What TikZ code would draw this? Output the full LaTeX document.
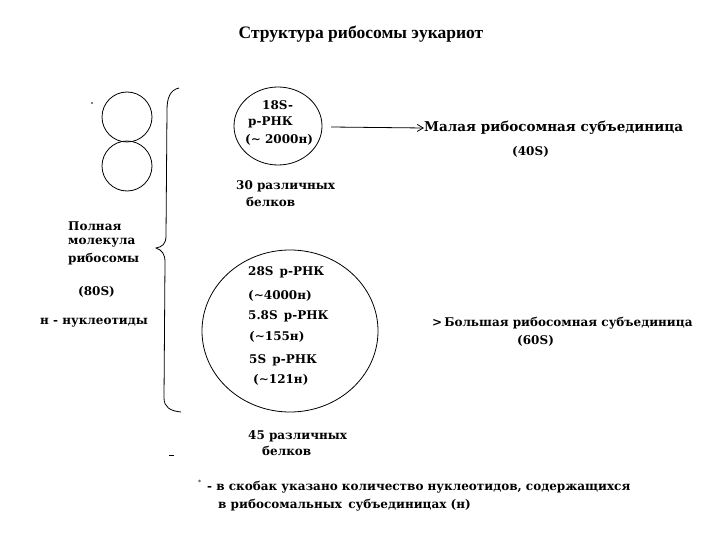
\documentclass[tikz,border=0pt]{standalone}
\usepackage{fontspec}
\setmainfont{DejaVu Serif}
\newfontfamily\titlefont{Liberation Serif}
\usetikzlibrary{arrows.meta}
\tikzset{
  lbl/.style={inner sep=0pt, anchor=west, font=\fontsize{12}{14}\selectfont\bfseries},
  ring/.style={draw, line width=0.8pt},
}
\begin{document}
\begin{tikzpicture}[x=1pt,y=-1pt]
\useasboundingbox (0,0) rectangle (720,540);
% title
\node[inner sep=0pt] (title) at (361,34) {\titlefont\fontsize{17.5}{20}\selectfont\bfseries Структура рибосомы эукариот};
% two small circles (ribosome sketch)
\draw[ring] (127,117) circle[radius=25];
\draw[ring] (127,166) circle[radius=25];
\fill (92,103) circle[radius=0.8];
% brace
\draw[line width=0.8pt] (179,88) .. controls (170,90) and (167,98) .. (167,110)
  -- (166,236) .. controls (166,244) and (162,247) .. (156,248)
  .. controls (162,250) and (165,254) .. (165,262)
  -- (164,398) .. controls (164,407) and (170,411) .. (181,412);
% left labels
\node[lbl] (full1) at (68,226) {Полная};
\node[lbl] (full2) at (68,243) {молекула};
\node[lbl] (full3) at (68,259) {рибосомы};
\node[lbl] (s80) at (78,292) {(80S)};
\node[lbl] (nuc) at (40,323) {н - нуклеотиды};
% small subunit
\draw[ring] (278,126) ellipse[x radius=44, y radius=39];
\node[lbl] (r18a) at (262,105) {18S-};
\node[lbl] (r18b) at (248,122) {р-РНК};
\node[lbl] (r18c) at (245,140) {(\symbol{"223C} 2000н)};
\node[lbl] (p30a) at (236,186) {30 различных};
\node[lbl] (p30b) at (246,202) {белков};
\coordinate (arS) at (331,127);
\node[lbl, font=\fontsize{13.5}{16}\selectfont\bfseries] (small) at (424,128) {Малая рибосомная субъединица};
\node[lbl] (s40) at (512,152) {(40S)};
\draw[line width=0.8pt, -{Straight Barb[length=6pt,width=7pt]}] (arS) -- (small.west);
% large subunit
\draw[ring] (290,331) ellipse[x radius=88, y radius=81];
\node[lbl] (r28a) at (248,272) {28S\, р-РНК};
\node[lbl] (r28b) at (248,296) {(\symbol{"223C}4000н)};
\node[lbl] (r58a) at (248,316) {5.8S\, р-РНК};
\node[lbl] (r58b) at (249,337) {(\symbol{"223C}155н)};
\node[lbl] (r5a) at (249,360) {5S\, р-РНК};
\node[lbl] (r5b) at (253,380) {(\symbol{"223C}121н)};
\node[lbl] (p45a) at (248,436) {45 различных};
\node[lbl] (p45b) at (262,451) {белков};
\node[lbl] (large) at (432,323) {>\,Большая рибосомная субъединица};
\node[lbl] (s60) at (517,341) {(60S)};
% small dash
\draw[line width=0.8pt] (169,455) -- (174,455);
% footnote
\node[lbl, font=\fontsize{6}{7}\selectfont] (star) at (198,482) {*};
\node[lbl] (fn1) at (207,487) {- в скобак указано количество нуклеотидов, содержащихся};
\node[lbl] (fn2) at (218,505) {в рибосомальных\, субъединицах (н)};
\end{tikzpicture}
\end{document}
